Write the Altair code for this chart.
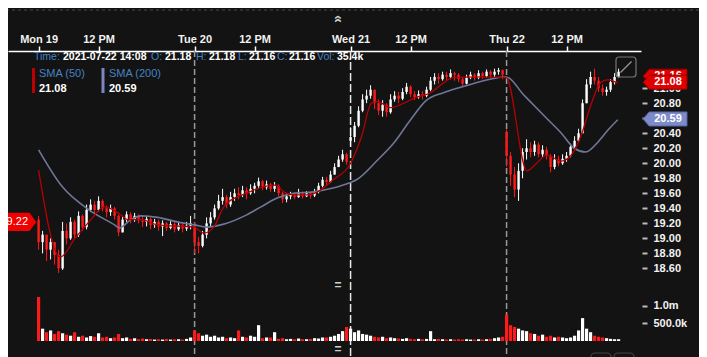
import altair as alt
import numpy as np
import pandas as pd

BG = "#131313"
FONT = "Liberation Sans"
UP = "#ffffff"
DOWN = "#ff1a1a"
BLUE_TXT = "#4682c4"

# ---------------- data (one bar = 20 trading minutes, session 07:00-20:00) ----------------
day_bars = [39, 39, 39, 29]
day_open = [19.25, 19.15, 20.30, 20.42]

mon_close = [18.95, 19.05, 18.85, 18.95, 18.78, 18.60, 19.10, 19.00, 19.22, 19.05,
             19.30, 19.15, 19.38, 19.45, 19.38, 19.50, 19.40, 19.35, 19.40, 19.30,
             19.08, 19.25, 19.32, 19.25, 19.30, 19.24, 19.22, 19.26, 19.18, 19.22,
             19.16, 19.20, 19.14, 19.19, 19.12, 19.18, 19.13, 19.17, 19.20]
mon_high = [19.30, 19.10, 19.05, 19.00, 18.95, 18.85, 19.22, 19.20, 19.28, 19.25,
            19.36, 19.32, 19.45, 19.52, 19.50, 19.56, 19.52, 19.44, 19.45, 19.42,
            19.32, 19.30, 19.36, 19.35, 19.34, 19.32, 19.30, 19.30, 19.28, 19.26,
            19.25, 19.24, 19.22, 19.23, 19.22, 19.21, 19.20, 19.22, 19.30]
mon_low = [18.85, 18.80, 18.70, 18.72, 18.65, 18.54, 18.58, 18.92, 18.98, 19.00,
           19.02, 19.10, 19.12, 19.35, 19.32, 19.36, 19.36, 19.28, 19.30, 19.25,
           19.03, 19.08, 19.22, 19.20, 19.22, 19.20, 19.15, 19.16, 19.12, 19.14,
           19.10, 19.03, 19.10, 19.12, 19.08, 19.10, 19.08, 19.10, 19.12]

tue_close = [18.95, 18.90, 19.05, 19.20, 19.28, 19.40, 19.50, 19.55, 19.45, 19.55,
             19.60, 19.58, 19.64, 19.60, 19.66, 19.70, 19.76, 19.68, 19.72, 19.66,
             19.70, 19.60, 19.52, 19.56, 19.58, 19.55, 19.60, 19.56, 19.60, 19.57,
             19.62, 19.70, 19.78, 19.75, 19.85, 19.95, 20.05, 20.12, 20.02]
tue_high = [19.22, 19.02, 19.10, 19.28, 19.35, 19.45, 19.58, 19.66, 19.58, 19.62,
            19.66, 19.68, 19.70, 19.68, 19.72, 19.74, 19.81, 19.78, 19.77, 19.74,
            19.75, 19.72, 19.62, 19.60, 19.62, 19.61, 19.66, 19.62, 19.63, 19.62,
            19.66, 19.74, 19.82, 19.82, 19.90, 20.00, 20.10, 20.18, 20.14]
tue_low = [18.80, 18.80, 18.88, 19.00, 19.15, 19.25, 19.38, 19.45, 19.40, 19.42,
           19.50, 19.52, 19.55, 19.52, 19.58, 19.60, 19.66, 19.64, 19.65, 19.62,
           19.62, 19.56, 19.47, 19.48, 19.52, 19.52, 19.54, 19.53, 19.55, 19.53,
           19.55, 19.60, 19.68, 19.70, 19.74, 19.85, 19.95, 20.02, 19.98]

wed_close = [20.35, 20.50, 20.70, 20.85, 20.90, 20.98, 20.80, 20.70, 20.78, 20.68,
             20.85, 20.90, 20.86, 20.95, 21.02, 20.92, 20.88, 20.92, 20.90, 20.98,
             21.10, 21.15, 21.12, 21.18, 21.15, 21.20, 21.18, 21.12, 21.06, 21.14,
             21.18, 21.14, 21.20, 21.16, 21.22, 21.18, 21.22, 21.24, 21.18]
wed_high = [20.48, 20.55, 20.76, 20.92, 20.98, 21.04, 20.98, 20.85, 20.84, 20.80,
            20.92, 20.96, 20.95, 21.00, 21.07, 21.04, 20.96, 20.97, 20.96, 21.02,
            21.15, 21.20, 21.20, 21.22, 21.22, 21.25, 21.22, 21.20, 21.15, 21.18,
            21.22, 21.20, 21.24, 21.22, 21.25, 21.24, 21.26, 21.27, 21.25]
wed_low = [20.22, 20.28, 20.48, 20.68, 20.80, 20.86, 20.72, 20.64, 20.62, 20.62,
           20.66, 20.82, 20.80, 20.84, 20.92, 20.88, 20.84, 20.86, 20.85, 20.88,
           20.96, 21.05, 21.06, 21.10, 21.10, 21.12, 21.10, 21.08, 21.02, 21.05,
           21.12, 21.10, 21.12, 21.12, 21.14, 21.14, 21.15, 21.18, 21.12]

thu_close = [20.10, 19.85, 19.65, 19.90, 20.15, 20.20, 20.15, 20.25, 20.12, 20.18,
             20.10, 19.95, 20.05, 20.00, 20.06, 20.10, 20.22, 20.30, 20.40, 20.80,
             21.05, 21.15, 21.10, 21.00, 20.95, 20.98, 21.08, 21.15, 21.22]
thu_high = [20.45, 20.15, 19.95, 20.00, 20.20, 20.32, 20.28, 20.30, 20.28, 20.24,
            20.22, 20.12, 20.12, 20.10, 20.12, 20.15, 20.26, 20.36, 20.46, 20.85,
            21.12, 21.22, 21.26, 21.15, 21.05, 21.02, 21.12, 21.20, 21.26]
thu_low = [19.95, 19.70, 19.55, 19.50, 19.80, 20.05, 20.08, 20.10, 20.08, 20.08,
           20.05, 19.88, 19.92, 19.96, 19.98, 20.02, 20.08, 20.20, 20.28, 20.40,
           20.80, 21.00, 21.05, 20.95, 20.90, 20.90, 20.95, 21.05, 21.14]

# volume in millions of shares
mon_vol = [1.25, 0.35, 0.25, 0.30, 0.20, 0.28, 0.22, 0.18, 0.15, 0.25,
           0.12, 0.15, 0.10, 0.14, 0.12, 0.22, 0.10, 0.12, 0.08, 0.10,
           0.20, 0.08, 0.10, 0.06, 0.08, 0.05, 0.07, 0.05, 0.06, 0.04,
           0.05, 0.04, 0.06, 0.04, 0.05, 0.05, 0.04, 0.06, 0.10]
tue_vol = [0.30, 0.22, 0.15, 0.18, 0.12, 0.15, 0.10, 0.12, 0.08, 0.10,
           0.08, 0.30, 0.12, 0.10, 0.15, 0.12, 0.45, 0.08, 0.10, 0.10,
           0.25, 0.06, 0.08, 0.05, 0.06, 0.05, 0.07, 0.05, 0.05, 0.06,
           0.08, 0.07, 0.10, 0.10, 0.12, 0.15, 0.20, 0.28, 0.40]
wed_vol = [0.35, 0.25, 0.30, 0.20, 0.18, 0.15, 0.12, 0.10, 0.12, 0.08,
           0.10, 0.08, 0.07, 0.06, 0.08, 0.06, 0.05, 0.06, 0.05, 0.06,
           0.28, 0.05, 0.06, 0.05, 0.04, 0.05, 0.04, 0.05, 0.04, 0.05,
           0.04, 0.04, 0.05, 0.04, 0.05, 0.06, 0.08, 0.10, 0.12]
thu_vol = [0.75, 0.45, 0.40, 0.35, 0.30, 0.28, 0.22, 0.20, 0.15, 0.18,
           0.12, 0.15, 0.10, 0.12, 0.10, 0.08, 0.10, 0.15, 0.30, 0.65,
           0.35, 0.25, 0.15, 0.12, 0.10, 0.08, 0.06, 0.05, 0.05]

# moving averages (bar index, price)
sma50_k = [0, 5.4, 9.1, 12.6, 16.5, 19.9, 22.4, 25.6, 29.8, 38.9,
           41.3, 43.8, 46.3, 49.5, 51.9, 55.6, 59.3, 61.3, 63.7, 67.2,
           70.4, 73.6, 77.8, 80.7, 83.2, 84.7, 88.1, 91.3, 94.5, 98.0,
           101.2, 103.6, 110.5, 116.9, 122.1, 124.5, 127.0, 130.7, 133.2, 135.7,
           138.1, 140.6, 142.3, 144.8]
sma50_v = [19.91, 18.75, 19.00, 19.22, 19.42, 19.34, 19.25, 19.25, 19.18, 19.15,
           19.07, 19.15, 19.42, 19.55, 19.60, 19.68, 19.71, 19.62, 19.58, 19.58,
           19.64, 19.78, 19.98, 20.35, 20.80, 20.82, 20.74, 20.80, 20.88, 20.94,
           21.07, 21.14, 21.15, 21.14, 19.90, 20.00, 20.11, 20.03, 20.11, 20.38,
           20.78, 21.08, 21.11, 21.07]
sma200_k = [0, 5.9, 12.6, 19.0, 20.2, 23.1, 25.6, 29.8, 34.7, 38.9,
            42.1, 46.3, 51.9, 55.6, 59.8, 63.7, 68.7, 73.6, 77.8, 79.5,
            84.7, 88.8, 93.0, 97.0, 101.2, 107.3, 116.9, 121.3, 127.0, 130.7,
            133.9, 136.8, 139.8, 142.3, 144.8]
sma200_v = [20.18, 19.69, 19.38, 19.18, 19.14, 19.25, 19.30, 19.28, 19.22, 19.18,
            19.15, 19.19, 19.31, 19.42, 19.54, 19.60, 19.62, 19.67, 19.74, 19.78,
            20.04, 20.27, 20.58, 20.84, 20.94, 21.04, 21.15, 20.91, 20.60, 20.40,
            20.20, 20.15, 20.28, 20.44, 20.58]

tick_k = [0, 15, 39, 54, 78, 93, 117, 132]
tick_text = ["Mon 19", "12 PM", "Tue 20", "12 PM", "Wed 21", "12 PM", "Thu 22", "12 PM"]
price_ticks = [18.6, 18.8, 19.0, 19.2, 19.4, 19.6, 19.8, 20.0, 20.2, 20.4, 20.6, 20.8, 21.0]
vol_ticks = [500000, 1000000]
session_k = [39, 117]
session_k_main = [78]

tag_prices = [21.16, 21.08, 20.59]
tag_labels = ["21.16", "21.08", "20.59"]
left_tag_price = [19.22]
left_tag_label = ["19.22"]

# ---------------- build table ----------------
closes = mon_close + tue_close + wed_close + thu_close
highs = mon_high + tue_high + wed_high + thu_high
lows = mon_low + tue_low + wed_low + thu_low
vols = mon_vol + tue_vol + wed_vol + thu_vol
opens = []
i = 0
for d, n in enumerate(day_bars):
    for j in range(n):
        opens.append(day_open[d] if j == 0 else closes[i - 1])
        i += 1

df = pd.DataFrame({"k": np.arange(len(closes)), "open": opens, "close": closes,
                   "high": highs, "low": lows, "vol": np.array(vols) * 1e6})
df["high"] = df[["high", "open", "close"]].max(axis=1)
df["low"] = df[["low", "open", "close"]].min(axis=1)
df["dir"] = np.where(df["close"] >= df["open"], "up", "down")

sma50 = pd.DataFrame({"k": sma50_k, "v": sma50_v})
sma200 = pd.DataFrame({"k": sma200_k, "v": sma200_v})

# ---------------- scales / axes ----------------
W, H = 633, 306
PX = 158.5 / 39.0
xs = alt.Scale(domain=[(8 - 34) / PX, (641 - 34) / PX], nice=False, zero=False)
ys = alt.Scale(domain=[17.4208, 21.4953], nice=False, zero=False)
vs = alt.Scale(domain=[-454545, 8238636], nice=False, zero=False)
cs = alt.Scale(domain=["up", "down"], range=[UP, DOWN])

label_expr = " : ".join(f"datum.value == {k} ? '{t}'" for k, t in zip(tick_k, tick_text)) + " : ''"
xaxis = alt.Axis(orient="top", values=tick_k, labelExpr=label_expr, grid=False,
                 domainColor="#ffffff", domainWidth=1.5, tickColor="#ffffff", tickWidth=1.5,
                 tickSize=5, labelColor="#f2f2f2", labelFont=FONT, labelFontSize=11,
                 labelFontWeight="bold", labelPadding=2, labelOverlap=False, labelFlush=False,
                 title=None)
yaxis = alt.Axis(orient="right", values=price_ticks, format=".2f", grid=False, domain=False,
                 tickColor="#bdbdbd", tickWidth=2, tickSize=5, offset=1, labelPadding=6,
                 labelColor="#f2f2f2", labelFont=FONT, labelFontSize=11, labelFontWeight="bold",
                 labelOverlap=False, title=None)
vaxis = alt.Axis(orient="right", values=vol_ticks, grid=False, domain=False,
                 labelExpr="datum.value >= 1000000 ? format(datum.value / 1000000, '.1f') + 'm' : format(datum.value / 1000, '.1f') + 'k'",
                 tickColor="#bdbdbd", tickWidth=2, tickSize=5, offset=1, labelPadding=6,
                 labelColor="#f2f2f2", labelFont=FONT, labelFontSize=11, labelFontWeight="bold",
                 labelOverlap=False, title=None)


def X(field="k"):
    # every layer carries the same (shared) top axis definition so the merge keeps it
    return alt.X(f"{field}:Q", scale=xs, axis=xaxis, title=None)


def Yp(field, axis=None):
    return alt.Y(f"{field}:Q", scale=ys, axis=axis, title=None)


one = pd.DataFrame({"a": [0]})


def txt(s, x, y, color, size=10.5, bold=False, align="left", **kw):
    return alt.Chart(one).mark_text(text=s, align=align, baseline="middle", font=FONT,
                                    fontSize=size, fontWeight="bold" if bold else "normal",
                                    color=color, **kw).encode(x=alt.value(x), y=alt.value(y))


def rule(x, x2, y, y2, color, width=1, dash=None):
    kw = {"strokeDash": dash} if dash else {}
    return alt.Chart(one).mark_rule(color=color, strokeWidth=width, **kw).encode(
        x=alt.value(x), x2=alt.value(x2), y=alt.value(y), y2=alt.value(y2))


# ---------------- layers ----------------
day_lines = alt.Chart(pd.DataFrame({"k": session_k})).mark_rule(
    color="#9a9a9a", strokeWidth=1.5, strokeDash=[6, 3]).encode(x=X())
day_line_main = alt.Chart(pd.DataFrame({"k": session_k_main})).mark_rule(
    color="#e6e6e6", strokeWidth=1.5, strokeDash=[8, 3]).encode(x=X())

wicks = alt.Chart(df).mark_rule(strokeWidth=1).encode(
    x=X(), y=Yp("low", yaxis), y2="high:Q",
    color=alt.Color("dir:N", scale=cs, legend=None))
bodies = alt.Chart(df).mark_bar(size=2.4).encode(
    x=X(), y=Yp("open"), y2="close:Q", color=alt.Color("dir:N", scale=cs, legend=None))
volume = alt.Chart(df).mark_bar(size=3.2).encode(
    x=X(), y=alt.Y("vol:Q", scale=vs, axis=vaxis, title=None),
    color=alt.Color("dir:N", scale=cs, legend=None))

line50 = alt.Chart(sma50).mark_line(color="#b80000", strokeWidth=1.3, interpolate="monotone").encode(
    x=X(), y=Yp("v"))
line200 = alt.Chart(sma200).mark_line(color="#6e7799", strokeWidth=1.6, interpolate="monotone").encode(
    x=X(), y=Yp("v"))

RIGHT_TAG = "M-1,0L-0.72,-0.32L1,-0.32L1,0.32L-0.72,0.32Z"
LEFT_TAG = "M-1,-0.46L0.66,-0.46L1,0L0.66,0.46L-1,0.46Z"
tag_fill = ["#e00000", "#e00000", "#7d8cc8"]
tag_stroke = ["#8a0000", "#8a0000", "#5565a0"]
tags = []
for p, lab, f, s in zip(tag_prices, tag_labels, tag_fill, tag_stroke):
    d = pd.DataFrame({"p": [p], "t": [lab]})
    tags.append(alt.Chart(d).mark_point(shape=RIGHT_TAG, size=1936, filled=True, fill=f,
                                        stroke=s, strokeWidth=1, opacity=1).encode(
        x=alt.value(657), y=Yp("p")))
    tags.append(alt.Chart(d).mark_text(font=FONT, fontSize=11, fontWeight="bold", color="#ffffff",
                                       align="center", baseline="middle").encode(
        x=alt.value(660), y=Yp("p"), text="t:N"))
dl = pd.DataFrame({"p": left_tag_price, "t": left_tag_label})
tags.append(alt.Chart(dl).mark_point(shape=LEFT_TAG, size=1225, filled=True, fill="#f00000",
                                     stroke="#f00000", opacity=1).encode(x=alt.value(9.5), y=Yp("p")))
tags.append(alt.Chart(dl).mark_text(font=FONT, fontSize=11, color="#ffffff", align="right",
                                    baseline="middle").encode(x=alt.value(20), y=Yp("p"), text="t:N"))

# header / legend text (view coordinates; view starts at page x 8, y 51)
legend = [
    txt("Time:", 26, 6, BLUE_TXT),
    txt("2021-07-22 14:08", 55, 6, "#ffffff", bold=True),
    txt("O:", 143, 6, BLUE_TXT),
    txt("21.18", 157, 6, "#ffffff", bold=True),
    txt("H:", 188, 6, BLUE_TXT),
    txt("21.18", 201, 6, "#ffffff", bold=True),
    txt("L:", 230, 6, BLUE_TXT),
    txt("21.16", 241, 6, "#ffffff", bold=True),
    txt("C:", 269, 6, BLUE_TXT),
    txt("21.16", 281, 6, "#ffffff", bold=True),
    txt("Vol:", 309, 6, BLUE_TXT),
    txt("35.4k", 329, 6, "#ffffff", bold=True),
    rule(25.5, 25.5, 17, 42, "#c00000", width=3),
    txt("SMA (50)", 31, 23, BLUE_TXT, size=11),
    txt("21.08", 31, 38, "#ffffff", size=11, bold=True),
    rule(95, 95, 17, 42, "#7b86c6", width=3),
    txt("SMA (200)", 101, 23, BLUE_TXT, size=11),
    txt("20.59", 101, 38, "#ffffff", size=11, bold=True),
]

# interface decorations
deco = [
    rule(-8, 699, -41, -41, "#4a4a4a", dash=[3, 3]),
    txt("\u00ab", 330, -32, "#d0d0d0", size=14, bold=True, align="center", angle=90),
    txt("=", 330, 234, "#d0d0d0", size=12, bold=True, align="center"),
    txt("=", 330, 298, "#d0d0d0", size=12, bold=True, align="center"),
    alt.Chart(one).mark_rect(fillOpacity=0, stroke="#777777", strokeWidth=1.2, cornerRadius=3).encode(
        x=alt.value(608), x2=alt.value(628), y=alt.value(6), y2=alt.value(26)),
    rule(612.5, 623.5, 21.5, 10.5, "#9a9a9a", width=1.2),
    alt.Chart(one).mark_rect(fillOpacity=0, stroke="#444444", strokeWidth=1.2, cornerRadius=4).encode(
        x=alt.value(583), x2=alt.value(603), y=alt.value(302), y2=alt.value(316)),
    alt.Chart(one).mark_rect(fillOpacity=0, stroke="#444444", strokeWidth=1.2, cornerRadius=4).encode(
        x=alt.value(606), x2=alt.value(626), y=alt.value(302), y2=alt.value(316)),
]

chart = alt.layer(day_lines, day_line_main, volume, wicks, bodies, line200, line50,
                  *tags, *legend, *deco).resolve_scale(y="independent").properties(
    width=W, height=H,
    padding={"left": 0, "top": 43, "right": 58, "bottom": 0},
    autosize=alt.AutoSizeParams(type="none"),
    background=BG,
).configure_view(strokeWidth=0)

chart.save("out.html", embed_options={"renderer": "svg", "actions": False})
